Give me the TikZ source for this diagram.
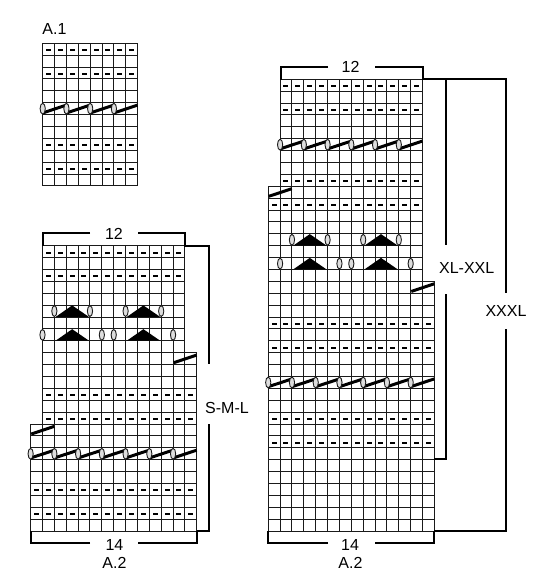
\documentclass[tikz,border=0pt]{standalone}
\usepackage{fontspec}
\setmainfont{Liberation Sans}
\definecolor{gridcol}{HTML}{1A1A1A}
\definecolor{yofill}{HTML}{DDDDDD}
\def\cw{11.87}
\def\ch{11.89}
% grid block: x0, y0, cols, first row, last row (lines snapped to the pixel grid)
\newcommand\gridblock[5]{%
  \pgfmathsetmacro\gbr{int(#5+1)}%
  \foreach \r in {#4,...,\gbr}{\draw[gridline] ({floor(#1)+.5-.5},{floor(#2+\r*\ch)+.5}) -- ({floor(#1+#3*\cw)+1},{floor(#2+\r*\ch)+.5});}%
  \foreach \k in {0,...,#3}{\draw[gridline] ({floor(#1+\k*\cw)+.5},{floor(#2+#4*\ch)}) -- ({floor(#1+\k*\cw)+.5},{floor(#2+\gbr*\ch)+1});}%
}
% dash row: x0, y0, cols, row
\newcommand\dashrow[4]{%
  \pgfmathsetmacro\drn{int(#3-1)}%
  \foreach \k in {0,...,\drn}{\draw[dashmark] ({round(#1+(\k+.5)*\cw-2.6)},{round(#2+(#4+.5)*\ch)+.5}) -- ({round(#1+(\k+.5)*\cw-2.6)+5},{round(#2+(#4+.5)*\ch)+.5});}%
}
% oval on grid line k: x0, y0, k, row
\newcommand\yo[4]{\draw[yomark] ({#1+#3*\cw},{#2+(#4+.5)*\ch}) ellipse [x radius=2.6, y radius=5.4];}
% slash: x0, y0, k, row
\newcommand\slashmark[4]{\draw[slashline] ({#1+#3*\cw+.6},{#2+(#4+.84)*\ch}) -- ({#1+(#3+2)*\cw-.2},{#2+(#4+.2)*\ch});}
% triangle: x0, y0, k (apex at k+1.5), row
\newcommand\tri[4]{\fill[black] ({#1+(#3+.12)*\cw},{#2+(#4+.98)*\ch}) -- ({#1+(#3+1.5)*\cw},{#2+(#4+.02)*\ch}) -- ({#1+(#3+2.9)*\cw},{#2+(#4+.98)*\ch}) -- cycle;}
% yo/slash row: x0, y0, pairs, row
\newcommand\yorow[4]{%
  \pgfmathsetmacro\yrn{int(#3-1)}%
  \foreach \p in {0,...,\yrn}{\slashmark{#1}{#2}{2*\p}{#4}}%
  \foreach \p in {0,...,\yrn}{\yo{#1}{#2}{2*\p}{#4}}%
}
% the two lace rows: x0, y0, first row
\newcommand\lace[3]{%
  \tri{#1}{#2}{1}{#3}\tri{#1}{#2}{7}{#3}%
  \pgfmathsetmacro\lr{int(#3+2)}%
  \tri{#1}{#2}{1}{\lr}\tri{#1}{#2}{7}{\lr}%
  \foreach \k in {1,4,7,10}{\yo{#1}{#2}{\k}{#3}}%
  \foreach \k in {0,5,6,11}{\yo{#1}{#2}{\k}{\lr}}%
}
\tikzset{
  gridline/.style={draw=gridcol,line width=1pt},
  dashmark/.style={draw=black,line width=2pt},
  yomark/.style={draw=gridcol,fill=yofill,line width=.9pt},
  slashline/.style={draw=black,line width=3pt},
  bracketline/.style={draw=black,line width=2pt},
  lbl/.style={font=\fontsize{16}{17}\selectfont,inner sep=0pt,text=black}
}
\begin{document}
\begin{tikzpicture}[x=1pt,y=-1pt]
\useasboundingbox (0,0) rectangle (550,584);
\fill[white] (0,0) rectangle (550,584);

%% A.1
\def\ax{42.7}\def\ay{43.3}
\gridblock{\ax}{\ay}{8}{0}{11}
\foreach \r in {0,2,8,10}{\dashrow{\ax}{\ay}{8}{\r}}
\yorow{\ax}{\ay}{4}{5}
\node[lbl,anchor=center] (ta1) at (54.5,28.5) {A.1};

%% A.2 left
\def\lx{42.5}\def\ly{245.7}\def\lxx{30.63}
\gridblock{\lx}{\ly}{12}{0}{8}
\gridblock{\lx}{\ly}{13}{9}{14}
\gridblock{\lxx}{\ly}{14}{15}{23}
\dashrow{\lx}{\ly}{12}{0}
\dashrow{\lx}{\ly}{12}{2}
\dashrow{\lx}{\ly}{13}{12}
\dashrow{\lx}{\ly}{13}{14}
\dashrow{\lxx}{\ly}{14}{20}
\dashrow{\lxx}{\ly}{14}{22}
\lace{\lx}{\ly}{5}
\slashmark{\lx}{\ly}{11}{9}
\slashmark{\lxx}{\ly}{0}{15}
\yorow{\lxx}{\ly}{7}{17}
\node[lbl] (l12) at (114,234) {12};
\node[lbl] (l14) at (114.5,545) {14};
\node[lbl] (la2) at (114.5,562.5) {A.2};
\node[lbl] (lsz) at (227,407.5) {S-M-L};
\draw[bracketline] (90,233) -- (43,233) -- (43,246);
\draw[bracketline] (138,233) -- (185,233) -- (185,246) -- (209,246) -- (209,363.5);
\draw[bracketline] (209,424) -- (209,531) -- (197,531);
\draw[bracketline] (90,543) -- (31,543) -- (31,531);
\draw[bracketline] (138,543) -- (197,543) -- (197,531);

%% A.2 right
\def\rx{280.1}\def\ry{79.3}\def\rxx{268.23}
\gridblock{\rx}{\ry}{12}{0}{8}
\gridblock{\rxx}{\ry}{13}{9}{16}
\gridblock{\rxx}{\ry}{14}{17}{37}
\dashrow{\rx}{\ry}{12}{0}
\dashrow{\rx}{\ry}{12}{2}
\dashrow{\rx}{\ry}{12}{8}
\dashrow{\rxx}{\ry}{13}{10}
\dashrow{\rxx}{\ry}{14}{20}
\dashrow{\rxx}{\ry}{14}{22}
\dashrow{\rxx}{\ry}{14}{28}
\dashrow{\rxx}{\ry}{14}{30}
\yorow{\rx}{\ry}{6}{5}
\slashmark{\rxx}{\ry}{0}{9}
\lace{\rx}{\ry}{13}
\slashmark{\rxx}{\ry}{12}{17}
\yorow{\rxx}{\ry}{7}{25}
\node[lbl] (r12) at (350.5,66.5) {12};
\node[lbl] (r14) at (350,545) {14};
\node[lbl] (ra2) at (350.5,562.5) {A.2};
\node[lbl] (rs1) at (466.7,267.7) {XL-XXL};
\node[lbl] (rs2) at (506,311) {XXXL};
\draw[bracketline] (328,67) -- (280.5,67) -- (280.5,80);
\draw[bracketline] (375,67) -- (423,67) -- (423,79) -- (506,79) -- (506,293);
\draw[bracketline] (446,79) -- (446,245);
\draw[bracketline] (446,294) -- (446,459) -- (434,459);
\draw[bracketline] (506,329) -- (506,531) -- (434,531);
\draw[bracketline] (328,543) -- (268,543) -- (268,531);
\draw[bracketline] (375,543) -- (434,543) -- (434,531);
\end{tikzpicture}
\end{document}
